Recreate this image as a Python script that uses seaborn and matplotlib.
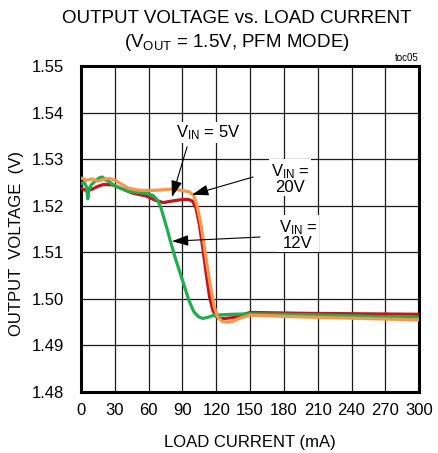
import numpy as np
import pandas as pd
import matplotlib
matplotlib.use("Agg")
import matplotlib.pyplot as plt
import seaborn as sns

x_5v = [0, 2, 5, 10, 15, 20, 28, 35, 45, 58, 66, 73, 80, 88, 95, 99, 102, 105, 108, 111,
        114, 117, 120, 124, 128, 135, 142, 150, 175, 200, 250, 300]
y_5v = [1.5238, 1.5236, 1.5232, 1.5236, 1.5242, 1.5246, 1.5245, 1.5238, 1.5228, 1.5221,
        1.5212, 1.5207, 1.5210, 1.5213, 1.5214, 1.5210, 1.5195, 1.5160, 1.5110, 1.5055,
        1.5005, 1.4975, 1.4962, 1.4958, 1.4958, 1.4960, 1.4965, 1.4971, 1.4970, 1.4969,
        1.4968, 1.4967]

x_12v = [0, 3, 5, 6, 7, 9, 12, 16, 19, 22, 25, 28, 35, 43, 50, 58, 64, 68, 71, 74, 77, 80,
         84, 88, 92, 96, 100, 104, 108, 112, 118, 125, 135, 150, 200, 250, 300]
y_12v = [1.5248, 1.5250, 1.5240, 1.5215, 1.5235, 1.5245, 1.5252, 1.5260, 1.5262, 1.5255,
         1.5252, 1.5246, 1.5238, 1.5231, 1.5229, 1.5227, 1.5222, 1.5212, 1.5195, 1.5170,
         1.5145, 1.5118, 1.5085, 1.5055, 1.5025, 1.4995, 1.4973, 1.4962, 1.4958, 1.4960,
         1.4965, 1.4966, 1.4967, 1.4968, 1.4966, 1.4963, 1.4960]

x_20v = [0, 5, 10, 15, 20, 25, 30, 35, 42, 50, 60, 70, 80, 90, 96, 100, 103, 106, 109, 112,
         115, 118, 121, 125, 130, 135, 140, 150, 175, 200, 250, 300]
y_20v = [1.5260, 1.5255, 1.5258, 1.5253, 1.5257, 1.5259, 1.5255, 1.5248, 1.5238, 1.5234,
         1.5233, 1.5234, 1.5236, 1.5233, 1.5230, 1.5222, 1.5200, 1.5165, 1.5120, 1.5070,
         1.5025, 1.4985, 1.4962, 1.4952, 1.4950, 1.4952, 1.4958, 1.4965, 1.4963, 1.4961,
         1.4958, 1.4955]

x_ticks = list(range(0, 301, 30))
y_ticks = [1.48, 1.49, 1.50, 1.51, 1.52, 1.53, 1.54, 1.55]

sns.set_style("white")
plt.rcParams['font.family'] = ['Liberation Sans', 'DejaVu Sans']
plt.rcParams['mathtext.fontset'] = 'custom'
plt.rcParams['mathtext.rm'] = 'Liberation Sans'
plt.rcParams['mathtext.it'] = 'Liberation Sans'
plt.rcParams['text.color'] = 'black'
plt.rcParams['axes.labelcolor'] = 'black'

fig = plt.figure(figsize=(4.38, 4.53), dpi=100)
ax = fig.add_axes([0.185, 0.1347, 0.772, 0.719])

sns.lineplot(x=x_5v, y=y_5v, color='#c0161c', linewidth=2.3, ax=ax, zorder=3)
sns.lineplot(x=x_12v, y=y_12v, color='#1fae4e', linewidth=2.3, ax=ax, zorder=3)
sns.lineplot(x=x_20v, y=y_20v, color='#f7964a', linewidth=2.3, ax=ax, zorder=4)

ax.set_xlim(0, 300)
ax.set_ylim(1.48, 1.55)
ax.set_xticks(x_ticks)
ax.set_yticks(y_ticks)
ax.set_yticklabels([f"{v:.2f}" for v in y_ticks])
ax.grid(True, color='#1a1a1a', linewidth=0.9)
ax.set_axisbelow(True)
for s in ax.spines.values():
    s.set_linewidth(2.2)
    s.set_color('black')
ax.tick_params(axis='both', length=0, labelsize=12, colors='black')
ax.tick_params(axis='y', pad=12)
ax.tick_params(axis='x', pad=8)
ax.set_xlabel('LOAD CURRENT (mA)', fontsize=12, labelpad=12)
ax.set_ylabel('OUTPUT  VOLTAGE  (V)', fontsize=12)
ax.yaxis.set_label_coords(-0.168, 0.457)

box = dict(facecolor='white', edgecolor='none', pad=1)
arrow = dict(arrowstyle='-|>,head_length=1.0,head_width=0.33', color='black', lw=0.8,
             shrinkA=0, shrinkB=0)

ax.text(112.7, 1.5357, r'V$_{\mathrm{IN}}$ = 5V', ha='center', va='center', fontsize=12,
        bbox=box, zorder=6)
ax.annotate('', xy=(80.7, 1.5219), xytext=(94.1, 1.5327), arrowprops=arrow, zorder=6)

ax.text(185.4, 1.5259, 'V$_{\\mathrm{IN}}$ =\n20V', ha='center', va='center', fontsize=12,
        bbox=box, linespacing=0.9, zorder=6)
ax.annotate('', xy=(98.5, 1.5224), xytext=(152.6, 1.5262), arrowprops=arrow, zorder=6)

ax.text(192.5, 1.5138, 'V$_{\\mathrm{IN}}$ =\n12V', ha='center', va='center', fontsize=12,
        bbox=box, linespacing=0.9, zorder=6)
ax.annotate('', xy=(80.7, 1.5124), xytext=(158.8, 1.5133), arrowprops=arrow, zorder=6)

fig.text(0.54, 0.96, 'OUTPUT VOLTAGE vs. LOAD CURRENT', ha='center', va='center', fontsize=13.5)
fig.text(0.54, 0.907, r'(V$_{\mathrm{OUT}}$ = 1.5V, PFM MODE)', ha='center', va='center',
         fontsize=13.5)
fig.text(0.955, 0.872, 'toc05', ha='right', va='center', fontsize=7)

fig.savefig('out.png', dpi=100)
